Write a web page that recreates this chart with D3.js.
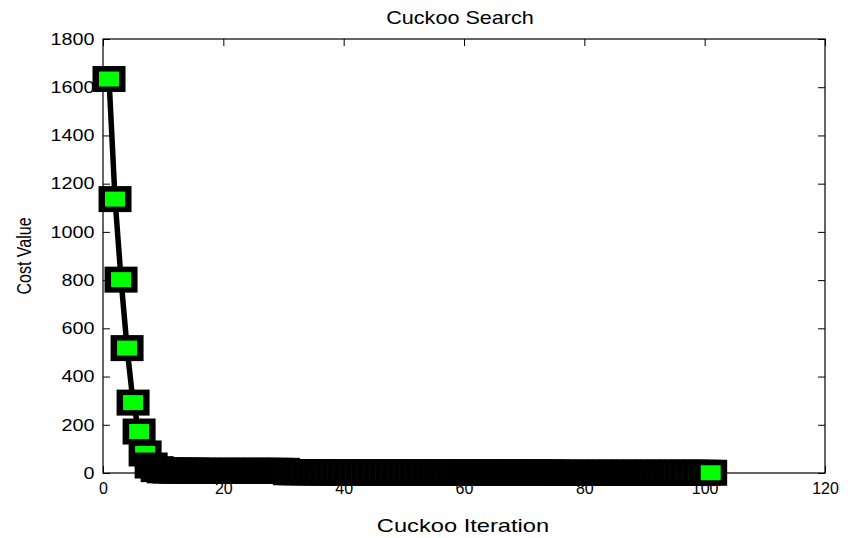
<!DOCTYPE html>
<html>
<head>
<meta charset="utf-8">
<script src="https://cdn.jsdelivr.net/npm/d3@7"></script>
<style>
  body { margin: 0; background: #fff; }
  svg { display: block; font-family: "Liberation Sans", Arial, sans-serif; }
</style>
</head>
<body>
<svg width="858" height="538"></svg>
<script>
// cost value per cuckoo iteration (iteration = index + 1)
const costValues = [
    1634, 1136, 802, 518, 292, 172, 81, 31, 16, 11,
    10, 10, 10, 10, 10, 9, 9, 9, 9, 9,
    9, 9, 9, 9, 9, 9, 9, 9, 9, 9,
    3, 3, 3, 3, 3, 2, 2, 2, 2, 2,
    2, 2, 2, 2, 2, 2, 2, 2, 2, 2,
    2, 2, 2, 2, 2, 2, 2, 2, 2, 2,
    2, 2, 2, 2, 2, 2, 2, 2, 2, 2,
    2, 2, 2, 2, 2, 1, 1, 1, 1, 1,
    1, 1, 1, 1, 1, 1, 1, 1, 1, 1,
    1, 1, 1, 1, 1, 1, 1, 1, 1, 1,
    1
];
const xTicks = [0, 20, 40, 60, 80, 100, 120];
const yTicks = [0, 200, 400, 600, 800, 1000, 1200, 1400, 1600, 1800];
const titleText = "Cuckoo Search";
const xLabel = "Cuckoo Iteration";
const yLabel = "Cost Value";

const svg = d3.select("svg"),
      margin = {top: 39, right: 33, bottom: 65, left: 103},
      width = +svg.attr("width") - margin.left - margin.right,
      height = +svg.attr("height") - margin.top - margin.bottom;

const data = costValues.map((v, i) => ({iter: i + 1, cost: v}));

const x = d3.scaleLinear().domain([0, 120]).range([0, width]);
const y = d3.scaleLinear().domain([0, 1800]).range([height, 0]);

const g = svg.append("g")
    .attr("transform", "translate(" + margin.left + "," + margin.top + ")");

// axes, ticks pointing inward like matlab
const xAxis = g.append("g")
    .attr("transform", "translate(0," + height + ")")
    .call(d3.axisBottom(x).tickValues(xTicks).tickFormat(d3.format("d"))
        .tickSizeInner(-7).tickSizeOuter(0).tickPadding(10));
xAxis.selectAll("text").attr("font-size", 16).attr("fill", "#000");

const yAxis = g.append("g")
    .call(d3.axisLeft(y).tickValues(yTicks).tickFormat(d3.format("d"))
        .tickSizeInner(-7).tickSizeOuter(0).tickPadding(7));
yAxis.selectAll("text")
    .attr("font-size", 16.5).attr("fill", "#000")
    .attr("transform", "scale(1.2,1)");

g.append("g")
    .call(d3.axisTop(x).tickValues(xTicks).tickFormat("").tickSizeInner(-7).tickSizeOuter(0));
g.append("g")
    .attr("transform", "translate(" + width + ",0)")
    .call(d3.axisRight(y).tickValues(yTicks).tickFormat("").tickSizeInner(-7).tickSizeOuter(0));

g.selectAll(".domain").remove();
g.selectAll(".tick line").attr("stroke", "#000");

g.append("rect")
    .attr("width", width).attr("height", height)
    .attr("fill", "none").attr("stroke", "#000").attr("stroke-width", 1.2);

// thick line
const line = d3.line().x(d => x(d.iter)).y(d => y(d.cost));
g.append("path")
    .datum(data)
    .attr("fill", "none")
    .attr("stroke", "#000")
    .attr("stroke-width", 5.5)
    .attr("stroke-linejoin", "round")
    .attr("d", line);

// square markers, drawn one after another so later ones cover earlier
const mk = g.append("g").selectAll("g")
    .data(data)
    .enter().append("g")
    .attr("transform", d => "translate(" + x(d.iter) + "," + y(d.cost) + ")");
mk.append("rect")
    .attr("x", -16.5).attr("y", -13).attr("width", 33).attr("height", 26)
    .attr("fill", "#000");
mk.append("rect")
    .attr("x", -10).attr("y", -7.5).attr("width", 20).attr("height", 15)
    .attr("fill", "#00ff00");

// title and labels
svg.append("text")
    .attr("transform", "translate(" + (margin.left + width / 2 - 4) + ",24) scale(1.2,1)")
    .attr("text-anchor", "middle")
    .attr("font-size", 18)
    .text(titleText);

svg.append("text")
    .attr("transform", "translate(" + (margin.left + width / 2 - 1) + ",532) scale(1.28,1)")
    .attr("text-anchor", "middle")
    .attr("font-size", 18.5)
    .text(xLabel);

svg.append("text")
    .attr("transform", "translate(31," + (margin.top + height / 2) + ") scale(1.25,1) rotate(-90)")
    .attr("text-anchor", "middle")
    .attr("font-size", 16)
    .text(yLabel);
</script>
</body>
</html>
